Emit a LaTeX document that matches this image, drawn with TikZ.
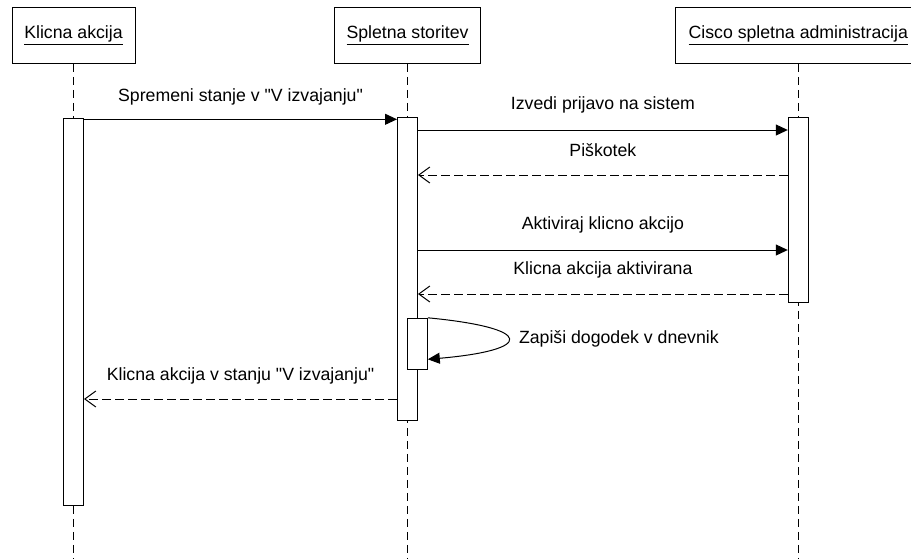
\documentclass[tikz,border=0pt]{standalone}
\usepackage{fontspec}
\setmainfont{Liberation Sans}[Ligatures=TeXOff]
\usetikzlibrary{arrows.meta}
\begin{document}
\begin{tikzpicture}[x=1pt,y=-1pt,line width=1pt,
  font=\fontsize{17.7}{20}\selectfont,
  head/.style={draw,fill=white,inner sep=0pt,minimum height=56pt},
  act/.style={draw,fill=white,inner sep=0pt,minimum width=20pt},
  life/.style={dash pattern=on 8pt off 5pt},
  callmsg/.style={-{Triangle[length=12pt,width=11pt,fill=black]}},
  retmsg/.style={dash pattern=on 9pt off 4pt,-{Straight Barb[length=11pt,width=16pt]}},
  lbl/.style={inner sep=0pt,anchor=center}]
\useasboundingbox (0,0) rectangle (911,558);
\clip (0,0) rectangle (911,558);
% headers
\node[head,minimum width=123pt] (h1) at (73.5,35.3) {\underline{Klicna akcija}};
\node[head,minimum width=146pt] (h2) at (407.5,35.3) {\underline{Spletna storitev}};
\node[head,minimum width=245pt] (h3) at (798.3,35.3) {\underline{Cisco spletna administracija}};
% lifeline ends
\coordinate (e1) at (73.5,560);
\coordinate (e2) at (407.5,560);
\coordinate (e3) at (798.3,560);
\draw[life] (h1.south) -- (e1);
\draw[life] (h2.south) -- (e2);
\draw[life] (h3.south) -- (e3);
% activations
\node[act,minimum height=387pt] (a1) at (73.5,311.8) {};
\node[act,minimum height=303pt] (a2) at (407.5,269) {};
\node[act,minimum height=185pt] (a3) at (798.3,210.3) {};
\node[act,minimum height=51pt] (a4) at (417.3,343.8) {};
% messages
\draw[callmsg] (a1.east |- 0,119.3) -- node[lbl,yshift=22pt]{Spremeni stanje v "V izvajanju"} (a2.west |- 0,119.3);
\draw[callmsg] (a2.east |- 0,130) -- node[lbl,yshift=25pt]{Izvedi prijavo na sistem} (a3.west |- 0,130);
\draw[retmsg] (a3.west |- 0,175) -- node[lbl,yshift=25pt]{Piškotek} (a2.east |- 0,175);
\draw[callmsg] (a2.east |- 0,250) -- node[lbl,yshift=25pt]{Aktiviraj klicno akcijo} (a3.west |- 0,250);
\draw[retmsg] (a3.west |- 0,294) -- node[lbl,yshift=24pt]{Klicna akcija aktivirana} (a2.east |- 0,294);
\draw[callmsg] (a4.north east) .. controls (535,328) and (535,350) .. (a4.east |- 0,359.3);
\node[lbl,anchor=west] (l6) at (518.5,339) {Zapiši dogodek v dnevnik};
\draw[retmsg] (a2.west |- 0,399) -- node[lbl,yshift=23pt]{Klicna akcija v stanju "V izvajanju"} (a1.east |- 0,399);
\end{tikzpicture}
\end{document}
